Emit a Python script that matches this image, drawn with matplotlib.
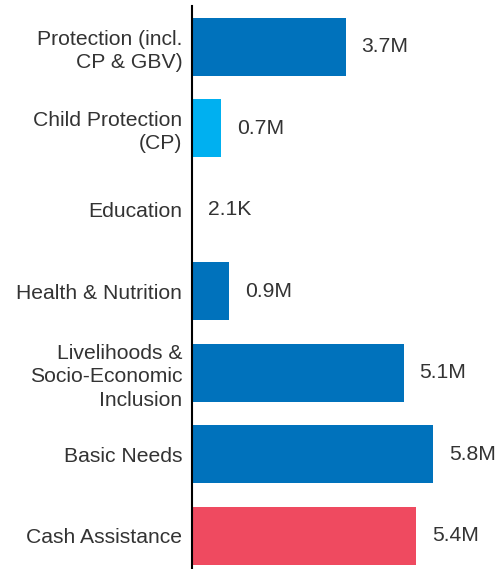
import matplotlib
matplotlib.use("Agg")
import matplotlib.pyplot as plt

plt.rcParams['font.family'] = ['Liberation Sans', 'DejaVu Sans']

categories = ['Protection (incl.\nCP & GBV)', 'Child Protection\n(CP)', 'Education',
              'Health & Nutrition', 'Livelihoods &\nSocio-Economic\nInclusion',
              'Basic Needs', 'Cash Assistance']
values = [3.7, 0.7, 0.0021, 0.9, 5.1, 5.8, 5.4]  # millions
value_labels = ['3.7M', '0.7M', '2.1K', '0.9M', '5.1M', '5.8M', '5.4M']
colors = ['#0072BC', '#00B0F0', '#0072BC', '#0072BC', '#0072BC', '#0072BC', '#EF4A60']

W, H = 497, 569
fig = plt.figure(figsize=(W / 100, H / 100), dpi=100)
ax = fig.add_axes([192 / W, 0, 305 / W, 563 / H])

ypos = list(range(len(categories)))
ax.barh(ypos, values, height=0.71, color=colors)
ax.set_ylim(-0.5 + 563 / 81.5, -0.5)
ax.set_xlim(0, 305 / 41.5)

for y, v, lab in zip(ypos, values, value_labels):
    ax.annotate(lab, (v, y), xytext=(11.5, 0), textcoords='offset points',
                va='center', ha='left', fontsize=15.2, color='#333333')

ax.set_yticks(ypos)
ax.set_yticklabels(categories, fontsize=15.2, color='#333333', linespacing=1.28)
ax.tick_params(axis='y', length=0, pad=7)
ax.set_xticks([])
for s in ['top', 'right', 'bottom']:
    ax.spines[s].set_visible(False)
ax.spines['left'].set_linewidth(1.5)
ax.spines['left'].set_color('black')

fig.savefig('out.png', dpi=100)
